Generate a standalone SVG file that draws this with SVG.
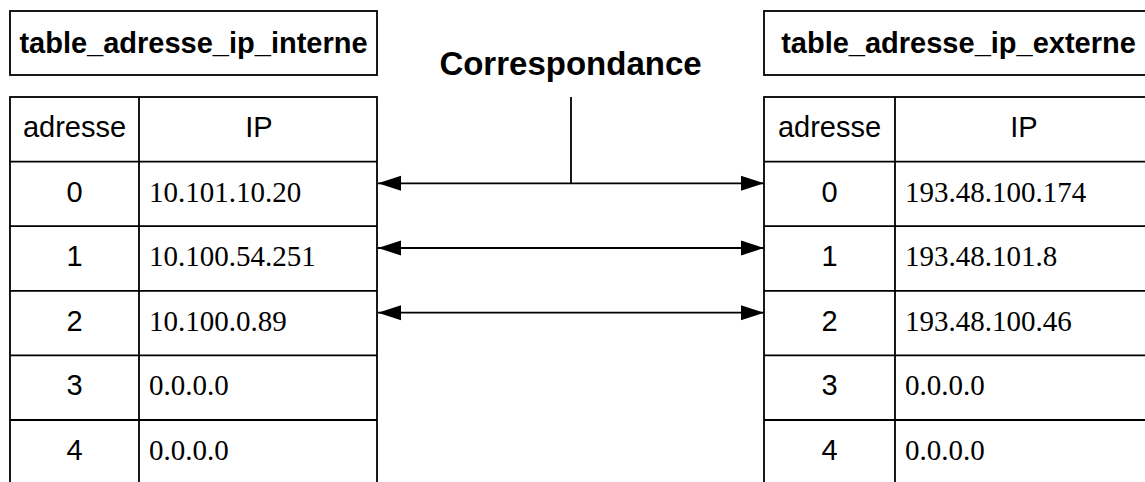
<svg xmlns="http://www.w3.org/2000/svg" width="1145" height="482" viewBox="0 0 1145 482">
  <style>
    .box { fill: #fff; stroke: #000; stroke-width: 1.8; }
    .grid { stroke: #000; stroke-width: 1.8; fill: none; }
    .title { font-family: "Liberation Sans", Arial, sans-serif; font-weight: bold; font-size: 29px; text-anchor: middle; fill: #000; }
    .head { font-family: "Liberation Sans", Arial, sans-serif; font-size: 29px; text-anchor: middle; fill: #000; }
    .ip { font-family: "Liberation Serif", "Times New Roman", serif; font-size: 29px; fill: #000; }
    .label { font-family: "Liberation Sans", Arial, sans-serif; font-weight: bold; font-size: 33px; text-anchor: middle; fill: #000; }
    .link { stroke: #000; stroke-width: 1.8; fill: none; }
  </style>
  <defs>
    <marker id="arrowEnd" markerUnits="userSpaceOnUse" markerWidth="23" markerHeight="16" refX="23" refY="8" orient="auto">
      <path d="M0,0.5 L23,8 L0,15.5 Z" fill="#000"/>
    </marker>
    <marker id="arrowStart" markerUnits="userSpaceOnUse" markerWidth="23" markerHeight="16" refX="0" refY="8" orient="auto">
      <path d="M23,0.5 L0,8 L23,15.5 Z" fill="#000"/>
    </marker>
  </defs>

  <rect width="1145" height="482" fill="#fff"/>

  <!-- internal address table -->
  <g id="table-interne">
    <rect class="box" x="10" y="11" width="367" height="64"/>
    <text class="title" x="193.5" y="53">table_adresse_ip_interne</text>
    <rect class="box" x="10" y="97" width="367" height="400"/>
    <path class="grid" d="M139,97 V490 M10,161.6 H377 M10,226.2 H377 M10,290.8 H377 M10,355.4 H377 M10,420 H377"/>
    <text class="head" x="74.5" y="137">adresse</text>
    <text class="head" x="259" y="137">IP</text>
    <text class="head" x="74.5" y="201.6">0</text>
    <text class="ip" x="149" y="201.6">10.101.10.20</text>
    <text class="head" x="74.5" y="266.2">1</text>
    <text class="ip" x="149" y="266.2">10.100.54.251</text>
    <text class="head" x="74.5" y="330.8">2</text>
    <text class="ip" x="149" y="330.8">10.100.0.89</text>
    <text class="head" x="74.5" y="395.4">3</text>
    <text class="ip" x="149" y="395.4">0.0.0.0</text>
    <text class="head" x="74.5" y="460">4</text>
    <text class="ip" x="149" y="460">0.0.0.0</text>
  </g>

  <!-- external address table -->
  <g id="table-externe">
    <rect class="box" x="764" y="11" width="389" height="64"/>
    <text class="title" x="958.5" y="53">table_adresse_ip_externe</text>
    <rect class="box" x="764" y="97" width="389" height="400"/>
    <path class="grid" d="M895,97 V490 M764,161.6 H1153 M764,226.2 H1153 M764,290.8 H1153 M764,355.4 H1153 M764,420 H1153"/>
    <text class="head" x="829.5" y="137">adresse</text>
    <text class="head" x="1024" y="137">IP</text>
    <text class="head" x="829.5" y="201.6">0</text>
    <text class="ip" x="905" y="201.6">193.48.100.174</text>
    <text class="head" x="829.5" y="266.2">1</text>
    <text class="ip" x="905" y="266.2">193.48.101.8</text>
    <text class="head" x="829.5" y="330.8">2</text>
    <text class="ip" x="905" y="330.8">193.48.100.46</text>
    <text class="head" x="829.5" y="395.4">3</text>
    <text class="ip" x="905" y="395.4">0.0.0.0</text>
    <text class="head" x="829.5" y="460">4</text>
    <text class="ip" x="905" y="460">0.0.0.0</text>
  </g>

  <!-- mapping label -->
  <g id="correspondance">
    <text class="label" x="570.5" y="75">Correspondance</text>
  </g>

  <!-- row-to-row mappings -->
  <g id="connectors">
    <line class="link" x1="571" y1="97" x2="571" y2="183.3"/>
    <line class="link" x1="378" y1="183.3" x2="764" y2="183.3" marker-start="url(#arrowStart)" marker-end="url(#arrowEnd)"/>
    <line class="link" x1="378" y1="248" x2="764" y2="248" marker-start="url(#arrowStart)" marker-end="url(#arrowEnd)"/>
    <line class="link" x1="378" y1="312.7" x2="764" y2="312.7" marker-start="url(#arrowStart)" marker-end="url(#arrowEnd)"/>
  </g>
</svg>
